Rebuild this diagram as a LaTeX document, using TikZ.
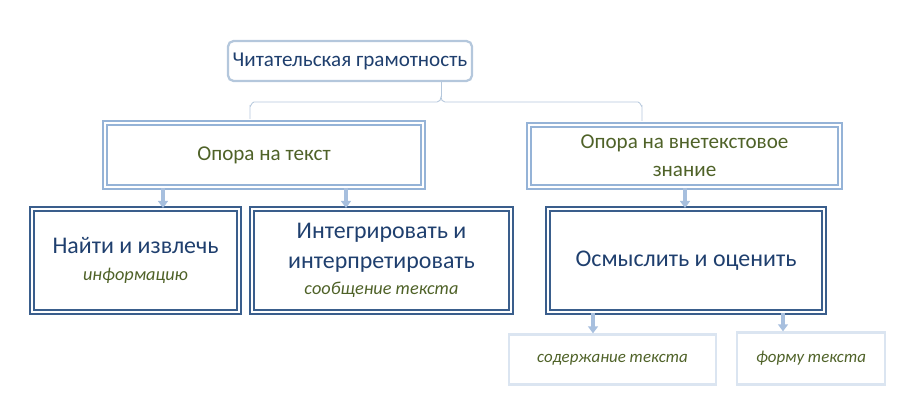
\documentclass[tikz,border=0pt]{standalone}
\usepackage{fontspec}
\setmainfont{Carlito}
\usetikzlibrary{positioning,arrows.meta}
\definecolor{topline}{HTML}{B4C7DC}
\definecolor{midline}{HTML}{95B3D7}
\definecolor{darkline}{HTML}{3A5E8C}
\definecolor{lightline}{HTML}{DBE5F1}
\definecolor{bluetext}{HTML}{1F3F6E}
\definecolor{olivetext}{HTML}{4F6228}
\definecolor{arrowcol}{HTML}{A7BFDE}

\begin{document}
\begin{tikzpicture}[x=0.025cm,y=-0.025cm,
  topbox/.style={draw=topline,line width=1.6pt,rounded corners=4pt,fill=white,
    minimum width=204*0.025cm,minimum height=40*0.025cm,text=bluetext,font=\fontsize{15}{18}\selectfont},
  midbox/.style={draw=midline,line width=1.3pt,double=white,double distance=1pt,
    text=olivetext,font=\fontsize{15}{20}\selectfont,align=center,inner sep=0pt},
  lowbox/.style={draw=darkline,line width=1.4pt,double=white,double distance=1pt,
    text=bluetext,font=\fontsize{17}{21}\selectfont,align=center,inner sep=0pt},
  leafbox/.style={draw=lightline,line width=1.6pt,text=olivetext,
    font=\itshape\fontsize{12}{14}\selectfont,inner sep=0pt},
  arr/.style={draw=arrowcol,line width=2.2pt,-{Triangle[width=7pt,length=5pt]}},
  brace/.style={draw=topline,line width=0.6pt}]
  \useasboundingbox (0,0) rectangle (905,400);
  % top
  \node[topbox] (gram) at (350,61) {Читательская грамотность};
  % second level
  \node[midbox,minimum width=318*0.025cm,minimum height=64*0.025cm] (text) at (264,155) {Опора на текст};
  \node[midbox,minimum width=311*0.025cm,minimum height=62*0.025cm] (extra) at (684.5,156) {Опора на внетекстовое\\знание};
  % third level
  \node[lowbox,minimum width=207*0.025cm,minimum height=103*0.025cm] (find) at (135.5,260.5)
    {Найти и извлечь\\[-2pt]{\fontsize{13}{15}\selectfont\itshape\color{olivetext}информацию}};
  \node[lowbox,minimum width=259*0.025cm,minimum height=103*0.025cm] (integ) at (381.5,260.5)
    {Интегрировать и\\интерпретировать\\[-2pt]{\fontsize{13}{15}\selectfont\itshape\color{olivetext}сообщение текста}};
  \node[lowbox,minimum width=276*0.025cm,minimum height=103*0.025cm] (eval) at (686,260.5)
    {Осмыслить и оценить};
  % leaves
  \node[leafbox,minimum width=207*0.025cm,minimum height=50*0.025cm] (content) at (612.5,359.5) {содержание текста};
  \node[leafbox,minimum width=148*0.025cm,minimum height=52*0.025cm] (form) at (811,358.5) {форму текста};
  % bracket
  \coordinate (bl) at (250,119);
  \coordinate (br) at (642,121);
  \coordinate (tip) at (441,97);
  \draw[brace] (bl) -- (250,106) to[out=-90,in=180] (254,102) -- (437,102)
    to[out=0,in=-90] (tip) to[out=-90,in=180] (445,102) -- (638,102)
    to[out=0,in=-90] (642,106) -- (br);
  \draw[brace] (gram.south -| tip) -- (tip);
  % arrows
  \coordinate (c1) at (163,0);
  \coordinate (c2) at (346,0);
  \coordinate (c3) at (685,0);
  \coordinate (c4) at (593,0);
  \coordinate (c5) at (783,0);
  \draw[arr] (text.south -| c1) -- (find.north -| c1);
  \draw[arr] (text.south -| c2) -- (integ.north -| c2);
  \draw[arr] (extra.south -| c3) -- (eval.north -| c3);
  \draw[arr] (eval.south -| c4) -- (content.north -| c4);
  \draw[arr] (eval.south -| c5) -- (form.north -| c5);
\end{tikzpicture}
\end{document}
